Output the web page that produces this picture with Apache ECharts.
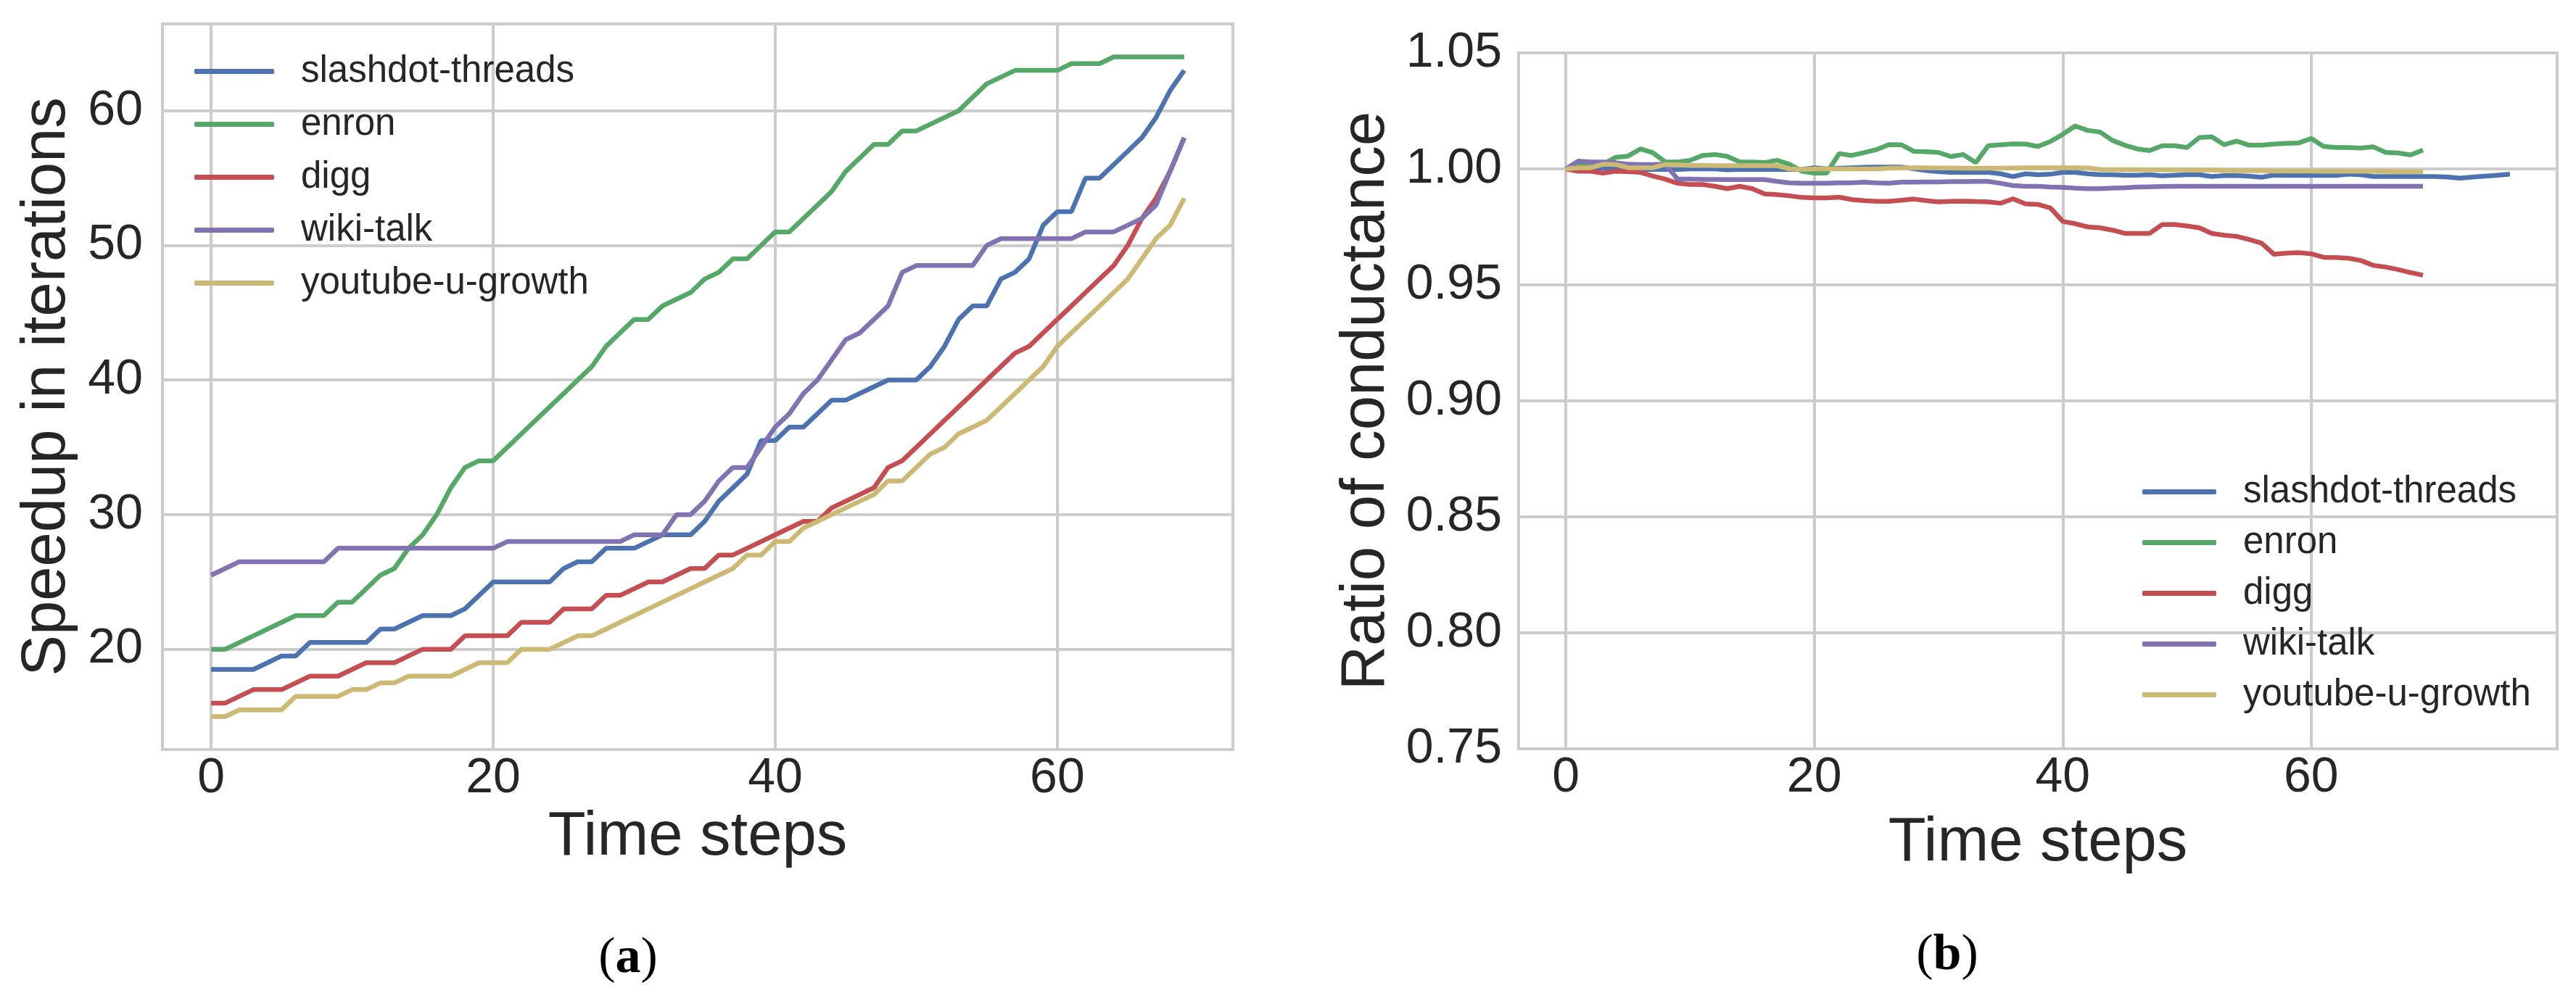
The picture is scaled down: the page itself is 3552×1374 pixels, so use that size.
<!DOCTYPE html>
<html>
<head>
<meta charset="utf-8">
<script src="https://cdn.jsdelivr.net/npm/echarts@6/dist/echarts.min.js"></script>
<style>
	html, body { margin: 0; padding: 0; background: #fff; }
	#container { width: 3552px; height: 1374px; }
</style>
</head>
<body>
<div id="container"></div>
<script>
// series names, in drawing order
var names = ['slashdot-threads', 'enron', 'digg', 'wiki-talk', 'youtube-u-growth'];
var colors = ['#4C72B0', '#55A868', '#C44E52', '#8172B2', '#CCB974'];

// (a) speedup in iterations, time steps 0..69
var speedSlashdot = [18.5, 18.5, 18.5, 18.5, 19, 19.5, 19.5, 20.5, 20.5, 20.5,
	20.5, 20.5, 21.5, 21.5, 22, 22.5, 22.5, 22.5, 23, 24,
	25, 25, 25, 25, 25, 26, 26.5, 26.5, 27.5, 27.5,
	27.5, 28, 28.5, 28.5, 28.5, 29.5, 31, 32, 33, 35.5,
	35.5, 36.5, 36.5, 37.5, 38.5, 38.5, 39, 39.5, 40, 40,
	40, 41, 42.5, 44.5, 45.5, 45.5, 47.5, 48, 49, 51.5,
	52.5, 52.5, 55, 55, 56, 57, 58, 59.5, 61.5, 63];
var speedEnron = [20, 20, 20.5, 21, 21.5, 22, 22.5, 22.5, 22.5, 23.5,
	23.5, 24.5, 25.5, 26, 27.5, 28.5, 30, 32, 33.5, 34,
	34, 35, 36, 37, 38, 39, 40, 41, 42.5, 43.5,
	44.5, 44.5, 45.5, 46, 46.5, 47.5, 48, 49, 49, 50,
	51, 51, 52, 53, 54, 55.5, 56.5, 57.5, 57.5, 58.5,
	58.5, 59, 59.5, 60, 61, 62, 62.5, 63, 63, 63,
	63, 63.5, 63.5, 63.5, 64, 64, 64, 64, 64, 64];
var speedDigg = [16, 16, 16.5, 17, 17, 17, 17.5, 18, 18, 18,
	18.5, 19, 19, 19, 19.5, 20, 20, 20, 21, 21,
	21, 21, 22, 22, 22, 23, 23, 23, 24, 24,
	24.5, 25, 25, 25.5, 26, 26, 27, 27, 27.5, 28,
	28.5, 29, 29.5, 29.5, 30.5, 31, 31.5, 32, 33.5, 34,
	35, 36, 37, 38, 39, 40, 41, 42, 42.5, 43.5,
	44.5, 45.5, 46.5, 47.5, 48.5, 50, 52, 53.5, 55.5, 58];
var speedWiki = [25.5, 26, 26.5, 26.5, 26.5, 26.5, 26.5, 26.5, 26.5, 27.5,
	27.5, 27.5, 27.5, 27.5, 27.5, 27.5, 27.5, 27.5, 27.5, 27.5,
	27.5, 28, 28, 28, 28, 28, 28, 28, 28, 28,
	28.5, 28.5, 28.5, 30, 30, 31, 32.5, 33.5, 33.5, 35,
	36.5, 37.5, 39, 40, 41.5, 43, 43.5, 44.5, 45.5, 48,
	48.5, 48.5, 48.5, 48.5, 48.5, 50, 50.5, 50.5, 50.5, 50.5,
	50.5, 50.5, 51, 51, 51, 51.5, 52, 53, 55.5, 58];
var speedYoutube = [15, 15, 15.5, 15.5, 15.5, 15.5, 16.5, 16.5, 16.5, 16.5,
	17, 17, 17.5, 17.5, 18, 18, 18, 18, 18.5, 19,
	19, 19, 20, 20, 20, 20.5, 21, 21, 21.5, 22,
	22.5, 23, 23.5, 24, 24.5, 25, 25.5, 26, 27, 27,
	28, 28, 29, 29.5, 30, 30.5, 31, 31.5, 32.5, 32.5,
	33.5, 34.5, 35, 36, 36.5, 37, 38, 39, 40, 41,
	42.5, 43.5, 44.5, 45.5, 46.5, 47.5, 49, 50.5, 51.5, 53.5];

// (b) ratio of conductance (slashdot-threads runs to step 76)
var ratioSlashdot = [1.0, 1.0, 1.0, 1.0003, 1.0005, 1.0, 0.9998, 0.9998, 0.9998, 0.9998,
	1.0, 1.0, 1.0, 0.9996, 0.9998, 0.9998, 0.9998, 0.9998, 0.9998, 0.9998,
	1.0005, 1.0, 1.0003, 1.0005, 1.0007, 1.0008, 1.0008, 1.0008, 1.0001, 0.9993,
	0.9988, 0.9985, 0.9985, 0.9985, 0.9985, 0.9979, 0.9967, 0.9979, 0.9975, 0.9977,
	0.9985, 0.9985, 0.9979, 0.9975, 0.9975, 0.9973, 0.9973, 0.9975, 0.997, 0.9973,
	0.9975, 0.9975, 0.9967, 0.9971, 0.9971, 0.9969, 0.9964, 0.9973, 0.9972, 0.9972,
	0.9972, 0.9972, 0.9972, 0.9977, 0.9975, 0.9967, 0.9967, 0.9967, 0.9967, 0.9967,
	0.9967, 0.9965, 0.996, 0.9965, 0.9969, 0.9973, 0.9977];
var ratioEnron = [1.0, 1.0017, 1.001, 1.002, 1.005, 1.0055, 1.0086, 1.007, 1.003, 1.003,
	1.0037, 1.0058, 1.0062, 1.0054, 1.003, 1.003, 1.0027, 1.0037, 1.002, 0.999,
	0.9982, 0.9982, 1.0066, 1.0058, 1.007, 1.0083, 1.0105, 1.0104, 1.0076, 1.0074,
	1.0071, 1.0053, 1.0062, 1.0027, 1.010, 1.0104, 1.0108, 1.0107, 1.0097, 1.0118,
	1.0149, 1.0185, 1.0166, 1.0159, 1.0123, 1.0102, 1.0086, 1.0079, 1.010, 1.010,
	1.0092, 1.0135, 1.0138, 1.0104, 1.012, 1.0102, 1.0102, 1.0107, 1.011, 1.0112,
	1.0131, 1.0097, 1.0092, 1.0092, 1.009, 1.0095, 1.0071, 1.0069, 1.006, 1.0081];
var ratioDigg = [1.0, 0.999, 0.999, 0.9982, 0.999, 0.9988, 0.9985, 0.9969, 0.9956, 0.9938,
	0.9933, 0.9933, 0.9925, 0.9915, 0.9925, 0.9915, 0.9892, 0.9889, 0.9884, 0.9877,
	0.9875, 0.9875, 0.9878, 0.9868, 0.9863, 0.986, 0.986, 0.9865, 0.987, 0.9863,
	0.9858, 0.986, 0.9861, 0.9859, 0.9858, 0.9852, 0.9871, 0.9849, 0.9847, 0.9832,
	0.9774, 0.9764, 0.975, 0.9746, 0.9736, 0.9722, 0.9722, 0.9722, 0.976, 0.976,
	0.9754, 0.9746, 0.9722, 0.9714, 0.9709, 0.9696, 0.968, 0.9632, 0.9637, 0.9639,
	0.9634, 0.9619, 0.9618, 0.9615, 0.9605, 0.9584, 0.9577, 0.9566, 0.9553, 0.9542];
var ratioWiki = [1.0, 1.0034, 1.003, 1.003, 1.0027, 1.002, 1.0019, 1.0019, 1.002, 0.9956,
	0.9956, 0.9955, 0.9955, 0.9954, 0.9954, 0.9954, 0.9954, 0.9946, 0.994, 0.9938,
	0.9938, 0.9938, 0.994, 0.994, 0.9943, 0.994, 0.9938, 0.9943, 0.9943, 0.9944,
	0.9944, 0.9945, 0.9945, 0.9946, 0.9946, 0.9938, 0.9928, 0.9925, 0.9925, 0.9922,
	0.992, 0.9917, 0.9915, 0.9915, 0.9917, 0.9919, 0.9922, 0.9923, 0.9924, 0.9925,
	0.9925, 0.9925, 0.9925, 0.9925, 0.9925, 0.9925, 0.9925, 0.9925, 0.9925, 0.9925,
	0.9925, 0.9925, 0.9925, 0.9925, 0.9925, 0.9925, 0.9925, 0.9925, 0.9925, 0.9925];
var ratioYoutube = [1.0, 1.0005, 1.0005, 1.002, 1.0019, 1.0005, 1.0005, 1.0005, 1.0019, 1.0017,
	1.0015, 1.0015, 1.0014, 1.0014, 1.0014, 1.0014, 1.0014, 1.0014, 1.0, 0.9998,
	1.0, 1.0, 1.0, 1.0, 1.0, 1.0, 1.0003, 1.0004, 1.0005, 1.0005,
	1.0004, 1.0004, 1.0003, 1.0003, 1.0003, 1.0003, 1.0004, 1.0005, 1.0005, 1.0005,
	1.0005, 1.0005, 1.0004, 0.9998, 0.9997, 0.9997, 0.9997, 0.9996, 0.9996, 0.9996,
	0.9995, 0.9995, 0.9995, 0.9993, 0.9992, 0.9992, 0.9992, 0.9991, 0.9991, 0.9991,
	0.9991, 0.999, 0.999, 0.999, 0.999, 0.999, 0.9989, 0.9988, 0.9988, 0.9988];

// tick labels
var xTicks = [0, 20, 40, 60];
var yTicksA = [20, 30, 40, 50, 60];
var yTicksB = [0.75, 0.80, 0.85, 0.90, 0.95, 1.00, 1.05];

var speedup = [speedSlashdot, speedEnron, speedDigg, speedWiki, speedYoutube];
var ratio = [ratioSlashdot, ratioEnron, ratioDigg, ratioWiki, ratioYoutube];

var FONT = '"Liberation Sans", Arial, Helvetica, sans-serif';
var TEXT = '#262626';
var GRID = '#cccccc';

function pairs(arr) {
	return arr.map(function (v, i) { return [i, v]; });
}

function xAxisFor(gridIndex, min, max, gap) {
	return {
		gridIndex: gridIndex,
		type: 'value',
		min: min,
		max: max,
		name: 'Time steps',
		nameLocation: 'middle',
		nameGap: gap,
		nameTextStyle: { fontFamily: FONT, fontSize: 85, color: TEXT },
		axisLine: { show: false },
		axisTick: { show: false, customValues: xTicks },
		axisLabel: { customValues: xTicks, fontFamily: FONT, fontSize: 68, color: TEXT, margin: 6 },
		splitLine: { show: true, lineStyle: { color: GRID, width: 4 } }
	};
}

function yAxisFor(gridIndex, min, max, ticks, name, gap, margin, fmt) {
	return {
		gridIndex: gridIndex,
		type: 'value',
		min: min,
		max: max,
		name: name,
		nameLocation: 'middle',
		nameRotate: 90,
		nameGap: gap,
		nameTextStyle: { fontFamily: FONT, fontSize: 85, color: TEXT },
		axisLine: { show: false },
		axisTick: { show: false, customValues: ticks },
		axisLabel: { customValues: ticks, fontFamily: FONT, fontSize: 68, color: TEXT, margin: margin, formatter: fmt },
		splitLine: { show: true, lineStyle: { color: GRID, width: 4 } }
	};
}

// legend keys are plain thick strokes, as in the figure
function legendFor(left, top, width, gap) {
	return {
		data: names,
		orient: 'vertical',
		left: left,
		top: top,
		icon: 'roundRect',
		itemWidth: width,
		itemHeight: 7,
		itemGap: gap,
		padding: 0,
		textStyle: { fontFamily: FONT, fontSize: 51, color: TEXT, padding: [0, 0, 0, 32] }
	};
}

var series = [];
names.forEach(function (n, i) {
	series.push({
		name: n, type: 'line', xAxisIndex: 0, yAxisIndex: 0,
		data: pairs(speedup[i]), symbol: 'none', showSymbol: false,
		lineStyle: { width: 6.5, color: colors[i] }, itemStyle: { color: colors[i] }
	});
});
names.forEach(function (n, i) {
	series.push({
		name: n, type: 'line', xAxisIndex: 1, yAxisIndex: 1,
		data: pairs(ratio[i]), symbol: 'none', showSymbol: false,
		lineStyle: { width: 6.5, color: colors[i] }, itemStyle: { color: colors[i] }
	});
});

function caption(x, y, letter) {
	return {
		type: 'text',
		x: x,
		y: y,
		style: {
			text: '{p|(}{b|' + letter + '}{p|)}',
			align: 'center',
			verticalAlign: 'middle',
			rich: {
				p: { fontFamily: '"Liberation Serif", "Times New Roman", serif', fontSize: 70, color: '#000' },
				b: { fontFamily: '"Liberation Serif", "Times New Roman", serif', fontSize: 70, fontWeight: 'bold', color: '#000' }
			}
		}
	};
}

var myChart = echarts.init(document.getElementById('container'));
var option = {
	backgroundColor: '#ffffff',
	animation: false,
	grid: [
		{ left: 224, top: 33, width: 1476, height: 1001, show: true, borderColor: GRID, borderWidth: 4, backgroundColor: '#fff' },
		{ left: 2094, top: 73, width: 1432, height: 960, show: true, borderColor: GRID, borderWidth: 4, backgroundColor: '#fff' }
	],
	xAxis: [
		xAxisFor(0, -3.45, 72.45, 77),
		xAxisFor(1, -3.8, 79.8, 88)
	],
	yAxis: [
		yAxisFor(0, 12.55, 66.45, yTicksA, 'Speedup in iterations', 116, 27, function (v) { return String(v); }),
		yAxisFor(1, 0.75, 1.05, yTicksB, 'Ratio of conductance', 167, 23, function (v) { return v.toFixed(2); })
	],
	legend: [
		legendFor(268, 73, 110, 22),
		legendFor(2954, 653, 102, 19)
	],
	graphic: [
		caption(866, 1323, 'a'),
		caption(2685, 1319, 'b')
	],
	series: series
};
myChart.setOption(option);
</script>
</body>
</html>
